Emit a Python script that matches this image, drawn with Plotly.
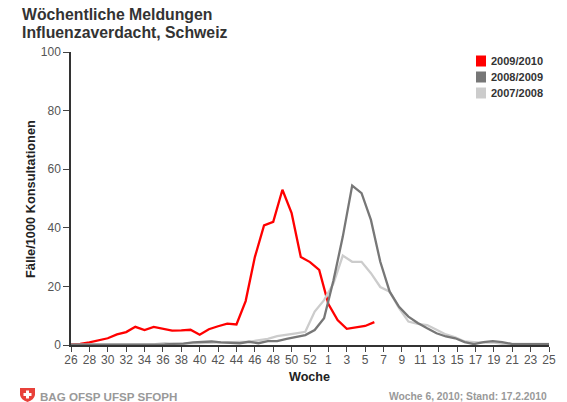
import plotly.graph_objects as go

# weeks of the season, 2009/2010 has a week 53
weeks_53 = list(range(26, 54)) + list(range(1, 26))
tick_weeks = list(range(26, 53, 2)) + list(range(1, 26, 2))

season_0910 = [0.2, 0.4, 0.9, 1.7, 2.3, 3.6, 4.4, 6.2, 5.1, 6.2, 5.5, 4.9, 5.0, 5.2,
               3.5, 5.4, 6.4, 7.3, 7.0, 15.0, 30.0, 40.8, 42.0, 53.0, 45.0, 30.0, 28.3,
               25.6, 14.0, 8.5, 5.5, 5.9, 6.5, 7.8]
season_0809 = [0.1, 0.1, 0.1, 0.1, 0.1, 0.1, 0.1, 0.1, 0.1, 0.1, 0.2, 0.4, 0.5, 0.9,
               1.1, 1.2, 0.9, 0.7, 0.6, 1.1, 0.6, 1.3, 1.3, 2.1, 2.7, 3.4, 5.1, 9.1,
               22.0, 37.0, 54.4, 51.8, 42.7, 28.4, 18.2, 13.0, 9.7, 7.5, 5.7, 4.0, 2.9,
               2.3, 1.0, 0.3, 1.0, 1.3, 1.0, 0.4, 0.3, 0.3, 0.3, 0.3]
season_0708 = [0.1, 0.1, 0.1, 0.1, 0.1, 0.1, 0.1, 0.2, 0.2, 0.3, 0.6, 0.4, 0.5, 0.6,
               0.9, 0.9, 1.0, 1.2, 1.1, 1.1, 1.5, 2.1, 3.0, 3.4, 4.0, 4.5, 11.4, 15.3,
               21.0, 30.5, 28.4, 28.4, 24.5, 19.8, 18.2, 12.6, 8.0, 7.2, 6.8, 5.2, 3.6,
               2.6, 1.2, 1.0, 0.8, 0.9, 0.4, 0.4, 0.4, 0.4, 0.4, 0.4]

RED = '#ff0000'
DARK = '#777777'
LIGHT = '#cccccc'
FONT = 'Liberation Sans'
WIDTH, HEIGHT = 567, 402
LEFT, RIGHT, TOP, BOTTOM = 71, 18, 52, 57


def px_x(x):
    return (x - LEFT) / (WIDTH - LEFT - RIGHT)


def px_y(y):
    return 1 - (y - TOP) / (HEIGHT - TOP - BOTTOM)


def label(text, x, y, size, color, anchor='left', bold=True):
    fig.add_annotation(text=f'<b>{text}</b>' if bold else text,
                       x=px_x(x), y=px_y(y), xref='paper', yref='paper',
                       xanchor=anchor, yanchor='middle', showarrow=False,
                       font=dict(family=FONT, size=size, color=color))


positions = {w: i for i, w in enumerate(weeks_53)}

fig = go.Figure()
# 52-week seasons are spread over the full width, so they use a second x axis
fig.add_trace(go.Scatter(x=list(range(len(season_0708))), y=season_0708, xaxis='x2',
                         mode='lines', line=dict(color=LIGHT, width=2.3), showlegend=False))
fig.add_trace(go.Scatter(x=list(range(len(season_0809))), y=season_0809, xaxis='x2',
                         mode='lines', line=dict(color=DARK, width=2.3), showlegend=False))
fig.add_trace(go.Scatter(x=list(range(len(season_0910))), y=season_0910,
                         mode='lines', line=dict(color=RED, width=2.3), showlegend=False))

fig.update_layout(
    width=WIDTH, height=HEIGHT, autosize=False,
    margin=dict(l=LEFT, r=RIGHT, t=TOP, b=BOTTOM),
    paper_bgcolor='white', plot_bgcolor='white',
    xaxis=dict(range=[0, len(weeks_53) - 1],
               tickmode='array', tickvals=[positions[w] for w in tick_weeks],
               ticktext=[str(w) for w in tick_weeks],
               ticks='outside', ticklen=5, tickcolor='#444444', showline=True,
               linecolor='#333333', linewidth=1.5, showgrid=False, zeroline=False,
               ticklabelstandoff=-2,
               tickangle=0, tickfont=dict(family=FONT, size=12, color='#555555')),
    xaxis2=dict(range=[0, 51], overlaying='x', visible=False),
    yaxis=dict(range=[0, 100], tickvals=[0, 20, 40, 60, 80, 100],
               ticks='outside', ticklen=6, tickcolor='#444444', showline=True,
               linecolor='#333333', linewidth=1.5, showgrid=False, zeroline=False,
               tickfont=dict(family=FONT, size=12, color='#555555')),
)

label('Wöchentliche Meldungen', 20, 14.5, 15.8, '#333333')
label('Influenzaverdacht, Schweiz', 20, 32.5, 15.8, '#333333')
label('Woche', 309, 377, 12.6, '#222222', anchor='center')
label('Woche 6, 2010; Stand: 17.2.2010', 549, 396, 10.3, '#999999', anchor='right')
label('BAG OFSP UFSP SFOPH', 38, 396, 11.6, '#999999')
fig.add_annotation(text='<b>Fälle/1000 Konsultationen</b>', x=px_x(30), y=px_y(199),
                   xref='paper', yref='paper', xanchor='center', yanchor='middle',
                   textangle=-90, showarrow=False,
                   font=dict(family=FONT, size=12.8, color='#222222'))

# legend
for name, color, y in [('2009/2010', RED, 61), ('2008/2009', DARK, 77), ('2007/2008', LIGHT, 93)]:
    fig.add_shape(type='rect', xref='paper', yref='paper', x0=px_x(476), x1=px_x(486),
                  y0=px_y(y - 5.5), y1=px_y(y + 5.5), fillcolor=color, line_width=0)
    label(name, 489, y, 11, '#333333')

# shield with white cross
sx, sy = 20, 387
path = (f'M {px_x(sx)} {px_y(sy + 1)} L {px_x(sx + 15)} {px_y(sy + 1)} L {px_x(sx + 15)} {px_y(sy + 8)} '
        f'Q {px_x(sx + 14)} {px_y(sy + 13)} {px_x(sx + 7.5)} {px_y(sy + 15)} '
        f'Q {px_x(sx + 1)} {px_y(sy + 13)} {px_x(sx)} {px_y(sy + 8)} Z')
fig.add_shape(type='path', path=path, xref='paper', yref='paper',
              fillcolor='#e8413a', line_width=0)
fig.add_shape(type='rect', xref='paper', yref='paper', x0=px_x(sx + 3.5), x1=px_x(sx + 11.5),
              y0=px_y(sy + 6), y1=px_y(sy + 9), fillcolor='white', line_width=0)
fig.add_shape(type='rect', xref='paper', yref='paper', x0=px_x(sx + 6), x1=px_x(sx + 9),
              y0=px_y(sy + 3.5), y1=px_y(sy + 11.5), fillcolor='white', line_width=0)

# the page's default margin would push the figure off the photographed window
fig.write_html("out.html", config={'displayModeBar': False},
               post_script="document.body.style.margin = '0';")
